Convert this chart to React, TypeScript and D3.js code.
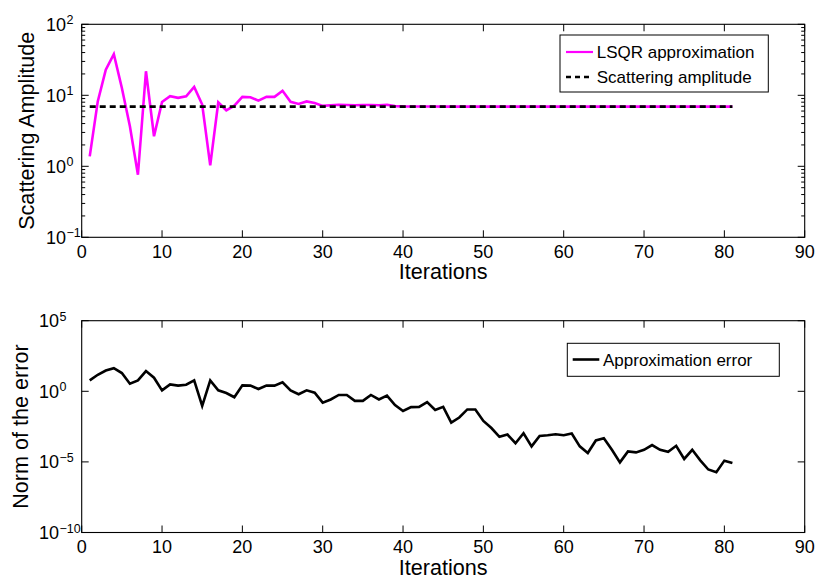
import React from "react";
import * as d3 from "d3";

// ---------- data ----------
const lsqrApprox: number[] = [
  1.38, 8.2, 23, 38, 12.7, 3.66, 0.76, 21.8, 2.65, 8.07,
  9.7, 9.2, 9.7, 13.1, 7.4, 1.03, 7.95, 6.15, 7.16, 9.5,
  9.4, 8.4, 9.5, 9.5, 11.6, 8.1, 7.57, 8.2, 7.8, 7.1,
  7.25, 7.35, 7.3, 7.25, 7.3, 7.3, 7.25, 7.35, 7.05, 6.98,
  6.96, 6.95, 6.95, 6.94, 6.93, 6.93, 6.93, 6.93, 6.93, 6.93,
  6.93, 6.93, 6.93, 6.93, 6.93, 6.93, 6.93, 6.93, 6.93, 6.93,
  6.93, 6.93, 6.93, 6.93, 6.93, 6.93, 6.93, 6.93, 6.93, 6.93,
  6.93, 6.93, 6.93, 6.93, 6.93, 6.93, 6.93, 6.93, 6.93, 6.93,
  6.93,
];
const scatteringAmplitude = 6.93;

const approxError: number[] = [
  5.89, 14.8, 29.5, 43.6, 19.5, 3.47, 5.89, 26.9, 9.12, 1.17,
  3.09, 2.51, 2.95, 5.89, 0.093, 5.89, 1.17, 0.76, 0.38, 2.63,
  2.51, 1.45, 2.51, 2.51, 4.27, 1.17, 0.62, 1.17, 0.79, 0.158,
  0.263, 0.55, 0.55, 0.209, 0.209, 0.55, 0.263, 0.5, 0.105, 0.04,
  0.076, 0.079, 0.17, 0.047, 0.079, 0.006, 0.014, 0.052, 0.052, 0.0079,
  0.0025, 6.0e-4, 8.7e-4, 2.1e-4, 1.07e-3, 1.26e-4, 6.9e-4, 7.8e-4, 9.1e-4, 7.8e-4,
  1.02e-3, 1.26e-4, 4.3e-5, 3.3e-4, 4.8e-4, 7.2e-5, 9.3e-6, 5.5e-5, 4.7e-5, 7.2e-5,
  1.55e-4, 7.2e-5, 5.2e-5, 1.38e-4, 1.62e-5, 7.2e-5, 1.29e-5, 2.9e-6, 1.86e-6, 1.23e-5,
  8.5e-6,
];

const xTicks = [0, 10, 20, 30, 40, 50, 60, 70, 80, 90];
const topYExps = [2, 1, 0, -1];
const bottomYExps = [5, 0, -5, -10];

const topLegend = ["LSQR approximation", "Scattering amplitude"];
const bottomLegend = ["Approximation error"];
const xLabel = "Iterations";
const topYLabel = "Scattering Amplitude";
const bottomYLabel = "Norm of the error";

// ---------- layout ----------
const W = 818;
const H = 580;
const FONT = "'Liberation Sans', Arial, Helvetica, sans-serif";
const X0 = 81.7;
const X1 = 804.7;
const TOP = { y0: 24.3, y1: 237.3 };
const BOT = { y0: 320.7, y1: 532.5 };
const MAJ = 7;
const MIN = 3.5;

const x = d3.scaleLinear().domain([0, 90]).range([X0, X1]);
const yTop = d3.scaleLog().domain([0.1, 100]).range([TOP.y1, TOP.y0]);
const yBot = d3.scaleLog().domain([1e-10, 1e5]).range([BOT.y1, BOT.y0]);

const sup = (e: number) => (e < 0 ? "\u2212" + Math.abs(e) : String(e));

function Frame({ y0, y1 }: { y0: number; y1: number }) {
  return (
    <g>
      <rect x={X0} y={y0} width={X1 - X0} height={y1 - y0} fill="none" stroke="#000" strokeWidth={1.1} />
      {xTicks.map((t) => (
        <g key={t}>
          <line x1={x(t)} x2={x(t)} y1={y1} y2={y1 - MAJ} stroke="#000" strokeWidth={1} />
          <line x1={x(t)} x2={x(t)} y1={y0} y2={y0 + MAJ} stroke="#000" strokeWidth={1} />
          <text x={x(t)} y={y1 + 20.5} textAnchor="middle" fontSize={18} fontFamily={FONT}>
            {t}
          </text>
        </g>
      ))}
      <text x={(X0 + X1) / 2} y={y1 + 42} textAnchor="middle" fontSize={21.6} fontFamily={FONT}>
        {xLabel}
      </text>
    </g>
  );
}

function YTicks({
  exps,
  scale,
  baseEnd,
  minor,
}: {
  exps: number[];
  scale: d3.ScaleLogarithmic<number, number>;
  baseEnd: number;
  minor: boolean;
}) {
  const minors: number[] = [];
  if (minor) {
    const [lo, hi] = scale.domain();
    for (let e = Math.round(Math.log10(lo)); e < Math.round(Math.log10(hi)); e++) {
      for (let m = 2; m <= 9; m++) minors.push(m * Math.pow(10, e));
    }
  }
  return (
    <g>
      {minors.map((v, i) => (
        <g key={"m" + i}>
          <line x1={X0} x2={X0 + MIN} y1={scale(v)} y2={scale(v)} stroke="#000" strokeWidth={1} />
          <line x1={X1} x2={X1 - MIN} y1={scale(v)} y2={scale(v)} stroke="#000" strokeWidth={1} />
        </g>
      ))}
      {exps.map((e) => {
        const yy = scale(Math.pow(10, e));
        return (
          <g key={e}>
            <line x1={X0} x2={X0 + MAJ} y1={yy} y2={yy} stroke="#000" strokeWidth={1} />
            <line x1={X1} x2={X1 - MAJ} y1={yy} y2={yy} stroke="#000" strokeWidth={1} />
            <text x={baseEnd} y={yy + 6.5} textAnchor="end" fontSize={18} fontFamily={FONT}>
              10
            </text>
            <text x={baseEnd + 0.5} y={yy} textAnchor="start" fontSize={12.5} fontFamily={FONT}>
              {sup(e)}
            </text>
          </g>
        );
      })}
    </g>
  );
}

export default function App() {
  const lineTop = d3
    .line<number>()
    .x((_, i) => x(i + 1))
    .y((d) => yTop(d));
  const lineBot = d3
    .line<number>()
    .x((_, i) => x(i + 1))
    .y((d) => yBot(d));
  const nIter = lsqrApprox.length;

  return (
    <svg
      width={W}
      height={H}
      viewBox={`0 0 ${W} ${H}`}
      style={{ position: "absolute", left: 0, top: 0, background: "#fff" }}
    >
      <rect x={0} y={0} width={W} height={H} fill="#fff" />

      {/* ---------- top plot ---------- */}
      <Frame y0={TOP.y0} y1={TOP.y1} />
      <YTicks exps={topYExps} scale={yTop} baseEnd={66} minor={true} />
      <text
        transform={`translate(33.5, ${(TOP.y0 + TOP.y1) / 2}) rotate(-90)`}
        textAnchor="middle"
        fontSize={21.6}
        fontFamily={FONT}
      >
        {topYLabel}
      </text>
      <path d={lineTop(lsqrApprox) ?? ""} fill="none" stroke="#ff00ff" strokeWidth={2.6} strokeLinejoin="miter" />
      <line
        x1={x(1)}
        x2={x(nIter)}
        y1={yTop(scatteringAmplitude)}
        y2={yTop(scatteringAmplitude)}
        stroke="#000"
        strokeWidth={2.8}
        strokeDasharray="6,4"
      />
      {/* top legend */}
      <g>
        <rect x={560} y={35} width={208.3} height={57} fill="#fff" stroke="#000" strokeWidth={1} />
        <line x1={566} x2={593} y1={52} y2={52} stroke="#ff00ff" strokeWidth={2.2} />
        <text x={596.7} y={58.3} fontSize={17} fontFamily={FONT}>
          {topLegend[0]}
        </text>
        <line x1={566} x2={593} y1={77} y2={77} stroke="#000" strokeWidth={2.6} strokeDasharray="5,4" />
        <text x={596.7} y={83.3} fontSize={17} fontFamily={FONT}>
          {topLegend[1]}
        </text>
      </g>

      {/* ---------- bottom plot ---------- */}
      <Frame y0={BOT.y0} y1={BOT.y1} />
      <YTicks exps={bottomYExps} scale={yBot} baseEnd={59} minor={false} />
      <text
        transform={`translate(28, ${(BOT.y0 + BOT.y1) / 2}) rotate(-90)`}
        textAnchor="middle"
        fontSize={21.6}
        fontFamily={FONT}
      >
        {bottomYLabel}
      </text>
      <path d={lineBot(approxError) ?? ""} fill="none" stroke="#000" strokeWidth={2.6} />
      <g>
        <rect x={567.3} y={343.3} width={212} height={33} fill="#fff" stroke="#000" strokeWidth={1} />
        <line x1={572.7} x2={599.3} y1={359.5} y2={359.5} stroke="#000" strokeWidth={2.6} />
        <text x={603} y={365.7} fontSize={17} fontFamily={FONT}>
          {bottomLegend[0]}
        </text>
      </g>
    </svg>
  );
}
